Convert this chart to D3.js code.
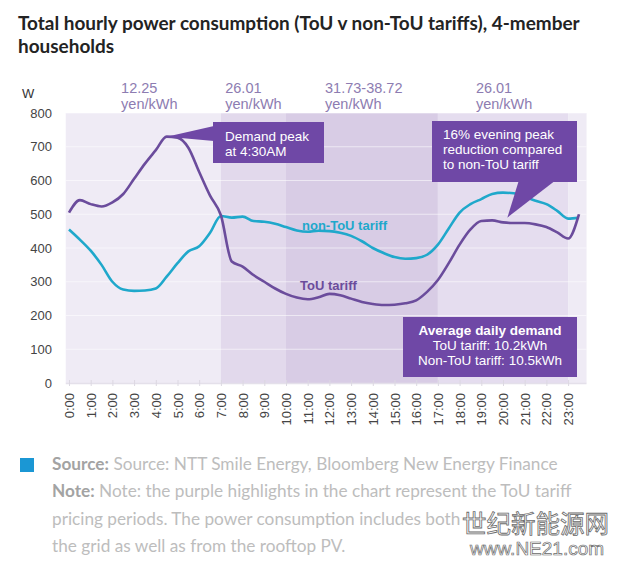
<!DOCTYPE html>
<html>
<head>
<meta charset="utf-8">
<script src="https://cdn.jsdelivr.net/npm/d3@7"></script>
<style>
  html, body { margin: 0; padding: 0; background: #ffffff; }
  svg { display: block; }
</style>
</head>
<body>
<svg id="chart" width="619" height="562"></svg>
<script>
// ---------------- DATA ----------------
const slots = ["0:00","0:30","1:00","1:30","2:00","2:30","3:00","3:30","4:00","4:30","5:00","5:30",
  "6:00","6:30","7:00","7:30","8:00","8:30","9:00","9:30","10:00","10:30","11:00","11:30",
  "12:00","12:30","13:00","13:30","14:00","14:30","15:00","15:30","16:00","16:30","17:00","17:30",
  "18:00","18:30","19:00","19:30","20:00","20:30","21:00","21:30","22:00","22:30","23:00","23:30"];
const touValues = [505,542,530,523,535,560,605,650,690,730,727,697,
  625,555,497,360,345,320,300,280,264,253,248,254,
  264,260,250,240,234,231,232,236,245,270,305,355,
  410,455,480,482,476,474,474,470,462,446,428,500];
const nonTouValues = [455,425,392,350,300,277,273,274,280,315,355,390,
  405,445,495,490,493,480,478,472,462,452,448,451,
  450,445,436,420,400,385,373,368,370,380,410,458,
  505,530,545,560,564,562,552,540,530,510,487,490];
const xTickLabels = ["0:00","1:00","2:00","3:00","4:00","5:00","6:00","7:00","8:00","9:00","10:00","11:00",
  "12:00","13:00","14:00","15:00","16:00","17:00","18:00","19:00","20:00","21:00","22:00","23:00"];
const yTicks = [0,100,200,300,400,500,600,700,800];
// pricing periods (hours): start, end, level
const periodStart = [-0.15, 7, 10, 17, 23];
const periodEnd   = [7, 10, 17, 23, 23.85];
const periodLevel = ["low", "mid", "high", "mid2", "low"];
const priceLabels = [["12.25","yen/kWh"],["26.01","yen/kWh"],["31.73-38.72","yen/kWh"],["26.01","yen/kWh"]];
const priceLabelHour = [2.4, 7.2, 11.8, 18.75];
const title = ["Total hourly power consumption (ToU v non-ToU tariffs), 4-member", "households"];

// ---------------- SETUP ----------------
const svg = d3.select("#chart");
const toHour = s => { const [h, m] = s.split(":").map(Number); return h + m / 60; };
const x = d3.scaleLinear().domain([0, 24]).range([69, 589.8]);
const y = d3.scaleLinear().domain([0, 800]).range([383, 113]);

const bandColor = { low: "#efebf5", mid: "#e2d9ec", high: "#d8cce5", mid2: "#e5ddef" };
const purple = "#6b4c9c";
const cyan = "#1fa8cb";
const boxPurple = "#6f48a6";
const labelPurple = "#8d7cb1";
const sans = "'Liberation Sans', Arial, sans-serif";

// Title
const titleG = svg.append("g");
title.forEach((t, i) => {
  titleG.append("text")
    .attr("x", 18).attr("y", 30 + i * 23)
    .attr("font-family", "Lato, 'Open Sans', sans-serif")
    .attr("font-weight", 700)
    .attr("font-size", 17)
    .attr("fill", "#232323")
    .text(t);
});
// fit title width
(function () {
  const n = titleG.select("text").node();
  const w = n.getComputedTextLength();
  const fs = 17 * 562 / w;
  titleG.selectAll("text").attr("font-size", fs.toFixed(2));
})();

// Bands
svg.append("g").selectAll("rect")
  .data(periodStart.map((s, i) => ({ s, e: periodEnd[i], l: periodLevel[i] })))
  .join("rect")
  .attr("x", d => x(d.s))
  .attr("width", d => x(d.e) - x(d.s))
  .attr("y", y(800))
  .attr("height", y(0) - y(800))
  .attr("fill", d => bandColor[d.l]);

// Gridlines
svg.append("g").selectAll("line")
  .data(yTicks.filter(v => v > 0))
  .join("line")
  .attr("x1", x(-0.15)).attr("x2", x(23.85))
  .attr("y1", d => y(d)).attr("y2", d => y(d))
  .attr("stroke", "#ffffff").attr("stroke-opacity", 0.55).attr("stroke-width", 1);

// baseline
svg.append("line")
  .attr("x1", x(-0.15)).attr("x2", x(23.85))
  .attr("y1", y(0) + 0.5).attr("y2", y(0) + 0.5)
  .attr("stroke", "#e4e0ea").attr("stroke-width", 1.5);

// Y axis labels
const yAxis = d3.axisLeft(y).tickValues(yTicks).tickSize(0).tickPadding(0);
const yG = svg.append("g").attr("transform", "translate(52,0)").call(yAxis);
yG.select(".domain").remove();
yG.selectAll("text")
  .attr("font-family", sans).attr("font-size", 13).attr("fill", "#444");

svg.append("text").attr("x", 22).attr("y", 98)
  .attr("font-family", sans).attr("font-size", 13).attr("fill", "#333").text("W");

// X axis
const xAxis = d3.axisBottom(x)
  .tickValues(xTickLabels.map(toHour))
  .tickFormat((d, i) => xTickLabels[i])
  .tickSize(4).tickPadding(0);
const xG = svg.append("g").attr("transform", `translate(0,${y(0)})`).call(xAxis);
xG.select(".domain").remove();
xG.selectAll(".tick line").attr("stroke", "#dcd8e2").attr("y1", -3).attr("y2", 3);
xG.selectAll("text")
  .attr("font-family", sans).attr("font-size", 13).attr("fill", "#444")
  .attr("text-anchor", "end")
  .attr("transform", "rotate(-90)")
  .attr("x", -10).attr("y", 0).attr("dy", "0.35em");

// Price labels
priceLabels.forEach((pl, i) => {
  const t = svg.append("text")
    .attr("font-family", sans).attr("font-size", 14.5).attr("fill", labelPurple);
  t.append("tspan").attr("x", x(priceLabelHour[i])).attr("y", 93).text(pl[0]);
  t.append("tspan").attr("x", x(priceLabelHour[i])).attr("y", 109).text(pl[1]);
});

// Lines
const line = d3.line()
  .x((d, i) => x(toHour(slots[i])))
  .y(d => y(d))
  .curve(d3.curveMonotoneX);

svg.append("path").datum(nonTouValues)
  .attr("d", line).attr("fill", "none")
  .attr("stroke", cyan).attr("stroke-width", 2.6).attr("stroke-linejoin", "round");
svg.append("path").datum(touValues)
  .attr("d", line).attr("fill", "none")
  .attr("stroke", purple).attr("stroke-width", 2.6).attr("stroke-linejoin", "round");

// Series labels
svg.append("text").attr("x", 302).attr("y", 230)
  .attr("font-family", sans).attr("font-weight", 700).attr("font-size", 13)
  .attr("fill", cyan).text("non-ToU tariff");
svg.append("text").attr("x", 300).attr("y", 290)
  .attr("font-family", sans).attr("font-weight", 700).attr("font-size", 13)
  .attr("fill", purple).text("ToU tariff");

// Callout 1: Demand peak
const peakIdx = touValues.indexOf(d3.max(touValues));
const peakX = x(toHour(slots[peakIdx])), peakY = y(touValues[peakIdx]);
svg.append("path")
  .attr("d", `M${peakX},${peakY} L214,126 L214,141 Z`)
  .attr("fill", boxPurple);
svg.append("rect").attr("x", 213).attr("y", 122).attr("width", 111).attr("height", 41)
  .attr("fill", boxPurple);
const c1 = svg.append("text").attr("font-family", sans).attr("font-size", 13.5).attr("fill", "#fff");
c1.append("tspan").attr("x", 225).attr("y", 141).text("Demand peak");
c1.append("tspan").attr("x", 225).attr("y", 156).text("at 4:30AM");

// Callout 2: evening peak
const tipX = x(20.2), tipY = y(490);
svg.append("path")
  .attr("d", `M${tipX},${tipY} L519,180 L556,180 Z`)
  .attr("fill", boxPurple);
svg.append("rect").attr("x", 432).attr("y", 121).attr("width", 145).attr("height", 61)
  .attr("fill", boxPurple);
const c2 = svg.append("text").attr("font-family", sans).attr("font-size", 13.5).attr("fill", "#fff");
["16% evening peak", "reduction compared", "to non-ToU tariff"].forEach((s, i) => {
  c2.append("tspan").attr("x", 443).attr("y", 139 + i * 15).text(s);
});

// Callout 3: Average daily demand
svg.append("rect").attr("x", 403).attr("y", 317).attr("width", 174).attr("height", 60)
  .attr("fill", boxPurple);
const c3 = svg.append("text").attr("font-family", sans).attr("font-size", 13.5)
  .attr("fill", "#fff").attr("text-anchor", "middle");
c3.append("tspan").attr("x", 490).attr("y", 335).attr("font-weight", 700).text("Average daily demand");
c3.append("tspan").attr("x", 490).attr("y", 350).text("ToU tariff: 10.2kWh");
c3.append("tspan").attr("x", 490).attr("y", 365).text("Non-ToU tariff: 10.5kWh");

// Footer
svg.append("rect").attr("x", 20).attr("y", 458).attr("width", 14).attr("height", 14).attr("fill", "#1b97d4");
const footer = [
  [["Source:", true], [" Source: NTT Smile Energy, Bloomberg New Energy Finance", false]],
  [["Note:", true], [" Note: the purple highlights in the chart represent the ToU tariff", false]],
  [["pricing periods. The power consumption includes both", false]],
  [["the grid as well as from the rooftop PV.", false]]
];
const fG = svg.append("g");
footer.forEach((ln, i) => {
  const t = fG.append("text").attr("x", 52).attr("y", 470 + i * 27.3)
    .attr("font-family", "Lato, sans-serif").attr("font-size", 15);
  ln.forEach(([s, b]) => {
    t.append("tspan").attr("font-weight", b ? 700 : 400)
      .attr("fill", b ? "#a3a3a3" : "#bdbdbd").text(s);
  });
});
(function () {
  const n = fG.select("text").node();
  const w = n.getComputedTextLength();
  fG.selectAll("text").attr("font-size", (15 * 506 / w).toFixed(2));
})();

// Watermark
svg.append("text").attr("x", 462).attr("y", 533)
  .attr("font-family", "'Noto Sans CJK SC', sans-serif").attr("font-size", 24.5)
  .attr("fill", "#ffffff").attr("stroke", "#6a6a6a").attr("stroke-width", 0.8)
  .text("世纪新能源网");
svg.append("text").attr("x", 470).attr("y", 555)
  .attr("font-family", sans).attr("font-size", 19)
  .attr("fill", "#ffffff").attr("stroke", "#6a6a6a").attr("stroke-width", 0.7)
  .text("www.NE21.com");
</script>
</body>
</html>
